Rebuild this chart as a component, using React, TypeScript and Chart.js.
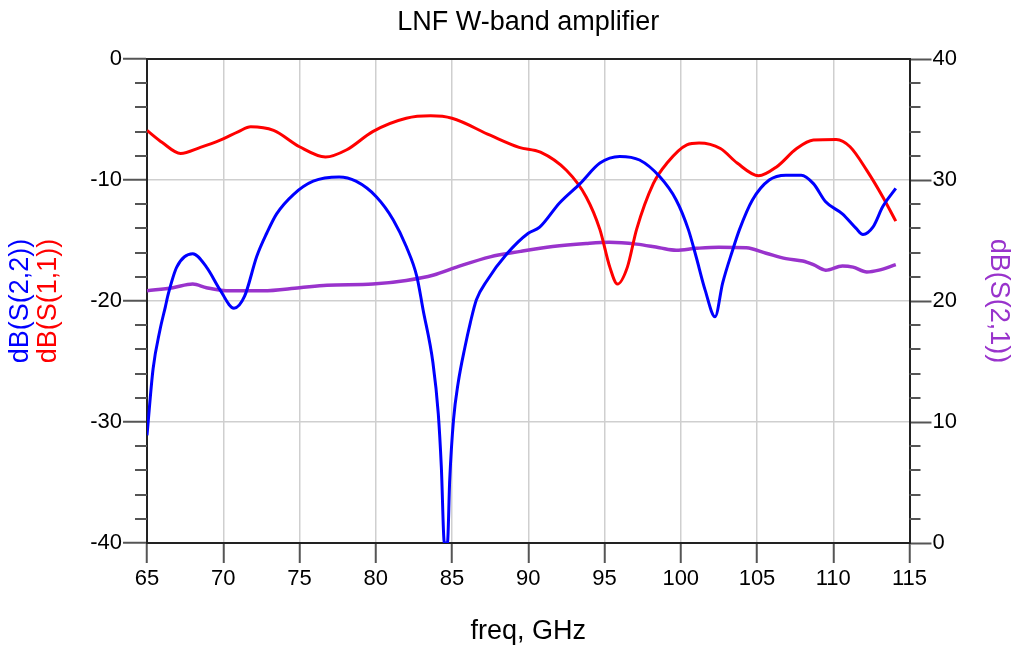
import { useEffect, useRef } from "react";
import { Chart, registerables } from "chart.js";

Chart.register(...registerables);

// Sweep frequencies (GHz) and magnitudes (dB) for each S-parameter trace.
const s11Freq = [65, 66, 67.2, 68.5, 69.8, 71, 71.8, 73.3, 75, 76.7, 78.1, 79.8, 82, 83.6, 85, 87.5, 89.4, 90.8, 92.5, 93.8, 94.7, 95.35, 95.85, 96.5, 97.1, 98.2, 99.1, 100.4, 101.2, 102.6, 103.7, 105.1, 106.3, 107.6, 108.7, 110.2, 111.1, 112.2, 113.25, 114.1];
const s11Db = [-5.9, -6.9, -7.8, -7.3, -6.7, -6.0, -5.6, -5.9, -7.25, -8.1, -7.5, -6.0, -4.9, -4.7, -4.9, -6.3, -7.3, -7.7, -9.2, -11.4, -14.1, -17.2, -18.6, -17.2, -14.1, -10.3, -8.6, -7.1, -6.95, -7.4, -8.6, -9.65, -8.9, -7.4, -6.7, -6.65, -7.25, -9.2, -11.4, -13.4];

const s22Freq = [65, 65.4, 65.85, 66.2, 66.4, 66.95, 68.0, 68.9, 69.8, 70.7, 71.4, 72.2, 72.85, 73.5, 74.6, 75.9, 77.6, 78.7, 80.05, 81.15, 82.0, 82.7, 83.1, 83.75, 84.1, 84.3, 84.5, 84.7, 84.85, 85.1, 85.4, 85.85, 86.2, 86.6, 87.3, 88.6, 90.0, 90.75, 92.05, 93.4, 94.7, 96.0, 97.3, 98.6, 99.7, 100.5, 101.0, 101.6, 102.25, 102.75, 103.4, 103.85, 104.7, 105.8, 106.9, 107.9, 108.7, 109.5, 110.6, 111.5, 111.95, 112.6, 113.25, 114.1];
const s22Db = [-31.1, -25.6, -22.4, -20.5, -19.4, -17.2, -16.1, -17.2, -19.1, -20.6, -19.6, -16.3, -14.4, -12.8, -11.2, -10.1, -9.75, -10.1, -11.4, -13.3, -15.5, -18.0, -20.7, -25.1, -29.3, -33.7, -40, -40, -34.8, -29.8, -26.8, -23.8, -21.8, -19.9, -18.3, -16.1, -14.4, -13.9, -11.9, -10.3, -8.6, -8.05, -8.35, -9.7, -11.65, -14.1, -16.3, -19.1, -21.3, -18.5, -15.8, -14.1, -11.65, -10.0, -9.6, -9.6, -10.3, -11.8, -12.8, -14.0, -14.5, -13.9, -12.2, -10.7];

const s21Freq = [65, 66.7, 68.0, 68.9, 70.2, 72.6, 75.0, 76.8, 79.8, 82.0, 83.8, 85.3, 87.5, 89.5, 91.6, 93.8, 95.3, 97.1, 98.6, 99.7, 101.0, 102.5, 104.3, 105.6, 106.9, 108.0, 108.7, 109.5, 110.6, 111.3, 112.2, 113.0, 114.1];
const s21Db = [20.85, 21.1, 21.4, 21.1, 20.85, 20.85, 21.1, 21.3, 21.4, 21.7, 22.15, 22.8, 23.65, 24.1, 24.5, 24.75, 24.85, 24.7, 24.4, 24.2, 24.35, 24.45, 24.4, 23.95, 23.5, 23.3, 23.0, 22.55, 22.9, 22.8, 22.4, 22.55, 23.0];

// Axis ranges and tick steps
const freqRange = [65, 115];
const freqStep = 5;
const reflRange = [-40, 0];
const gainRange = [0, 40];
const minorStep = 2;
const majorStep = 10;

const chartTitle = "LNF W-band amplifier";
const xTitle = "freq, GHz";
const s22Label = "dB(S(2,2))";
const s11Label = "dB(S(1,1))";
const s21Label = "dB(S(2,1))";

const BLUE = "#0000FF";
const RED = "#FF0000";
const PURPLE = "#9933CC";
const GRID = "#cfcfcf";
const TICK = "#555555";
const AXIS = "#222222";
const FONT = "'Liberation Sans', Arial, Helvetica, sans-serif";

const toPoints = (xs: number[], ys: number[]) => xs.map((x, i) => ({ x, y: ys[i] }));
const isMajor = (v: number) => Math.abs(v % majorStep) < 1e-9;

// Title centred over the plot, top frame line, short minor ticks on both
// value axes and the two-colour left axis title.
const framePlugin = {
  id: "frameDecor",
  afterDraw(chart: any) {
    const { ctx, chartArea: a, scales } = chart;
    ctx.save();

    ctx.font = `27px ${FONT}`;
    ctx.fillStyle = "#000";
    ctx.textAlign = "center";
    ctx.textBaseline = "alphabetic";
    ctx.fillText(chartTitle, (a.left + a.right) / 2, 30);

    ctx.strokeStyle = AXIS;
    ctx.lineWidth = 2;
    ctx.beginPath();
    ctx.moveTo(a.left, a.top);
    ctx.lineTo(a.right, a.top);
    ctx.stroke();

    ctx.strokeStyle = TICK;
    ctx.lineWidth = 2;
    for (const t of scales.y.ticks) {
      if (isMajor(t.value)) continue;
      const py = Math.round(scales.y.getPixelForValue(t.value));
      ctx.beginPath();
      ctx.moveTo(a.left - 12, py);
      ctx.lineTo(a.left, py);
      ctx.stroke();
    }
    for (const t of scales.y2.ticks) {
      if (isMajor(t.value)) continue;
      const py = Math.round(scales.y2.getPixelForValue(t.value));
      ctx.beginPath();
      ctx.moveTo(a.right, py);
      ctx.lineTo(a.right + 11, py);
      ctx.stroke();
    }

    const cy = (a.top + a.bottom) / 2;
    ctx.textBaseline = "middle";
    const drawVertical = (text: string, x: number, color: string) => {
      ctx.save();
      ctx.translate(x, cy);
      ctx.rotate(-Math.PI / 2);
      ctx.fillStyle = color;
      ctx.fillText(text, 0, 0);
      ctx.restore();
    };
    drawVertical(s22Label, 21, BLUE);
    drawVertical(s11Label, 49, RED);
    ctx.restore();
  },
};

export default function App() {
  const canvasRef = useRef<HTMLCanvasElement | null>(null);

  useEffect(() => {
    if (!canvasRef.current) return;
    const tickFont = { size: 22, family: FONT };
    const majorOnlyColor = (color: string) => (c: any) =>
      c.tick && isMajor(c.tick.value) ? color : "rgba(0,0,0,0)";

    const chart = new Chart(canvasRef.current, {
      type: "line",
      data: {
        datasets: [
          {
            label: s22Label,
            data: toPoints(s22Freq, s22Db),
            borderColor: BLUE,
            borderWidth: 3,
            pointRadius: 0,
            cubicInterpolationMode: "monotone",
            yAxisID: "y",
          },
          {
            label: s11Label,
            data: toPoints(s11Freq, s11Db),
            borderColor: RED,
            borderWidth: 3,
            pointRadius: 0,
            cubicInterpolationMode: "monotone",
            yAxisID: "y",
          },
          {
            label: s21Label,
            data: toPoints(s21Freq, s21Db),
            borderColor: PURPLE,
            borderWidth: 3.5,
            pointRadius: 0,
            cubicInterpolationMode: "monotone",
            yAxisID: "y2",
          },
        ],
      },
      options: {
        responsive: false,
        animation: false,
        events: [],
        layout: { padding: { top: 59, left: 0, right: 0, bottom: 0 } },
        plugins: {
          legend: { display: false },
          tooltip: { enabled: false },
          title: { display: false },
        },
        scales: {
          x: {
            type: "linear",
            min: freqRange[0],
            max: freqRange[1],
            afterFit: (s: any) => {
              s.height = 106;
            },
            ticks: {
              stepSize: freqStep,
              autoSkip: false,
              maxRotation: 0,
              color: "#000",
              font: tickFont,
              padding: 3,
            },
            grid: {
              color: GRID,
              lineWidth: 1.5,
              tickLength: 20,
              tickColor: TICK,
              tickWidth: 2,
            },
            border: { color: AXIS, width: 2 },
            title: {
              display: true,
              text: xTitle,
              color: "#000",
              font: { size: 27, family: FONT },
              padding: { top: 0, bottom: 1 },
            },
          },
          y: {
            type: "linear",
            position: "left",
            min: reflRange[0],
            max: reflRange[1],
            afterFit: (s: any) => {
              s.width = 147;
            },
            ticks: {
              stepSize: minorStep,
              autoSkip: false,
              color: "#000",
              font: tickFont,
              padding: 1,
              callback: (v: any) => (isMajor(Number(v)) ? String(v) : ""),
            },
            grid: {
              color: majorOnlyColor(GRID),
              lineWidth: 1.5,
              tickLength: 24,
              tickColor: majorOnlyColor(TICK),
              tickWidth: 2,
            },
            border: { color: AXIS, width: 2 },
          },
          y2: {
            type: "linear",
            position: "right",
            min: gainRange[0],
            max: gainRange[1],
            afterFit: (s: any) => {
              s.width = 102.5;
            },
            ticks: {
              stepSize: minorStep,
              autoSkip: false,
              color: "#000",
              font: tickFont,
              padding: 1,
              callback: (v: any) => (isMajor(Number(v)) ? String(v) : ""),
            },
            grid: {
              drawOnChartArea: false,
              tickLength: 22,
              tickColor: majorOnlyColor(TICK),
              tickWidth: 2,
            },
            border: { color: AXIS, width: 2 },
            title: {
              display: true,
              text: s21Label,
              color: PURPLE,
              font: { size: 27, family: FONT, lineHeight: 1 },
              padding: { top: 0, bottom: 0 },
            },
          },
        },
      },
      plugins: [framePlugin],
    } as any);

    return () => chart.destroy();
  }, []);

  return (
    <div style={{ position: "absolute", left: 0, top: 0, width: 1012, height: 649, overflow: "hidden", background: "#fff" }}>
      <canvas ref={canvasRef} width={1012} height={649} />
    </div>
  );
}
